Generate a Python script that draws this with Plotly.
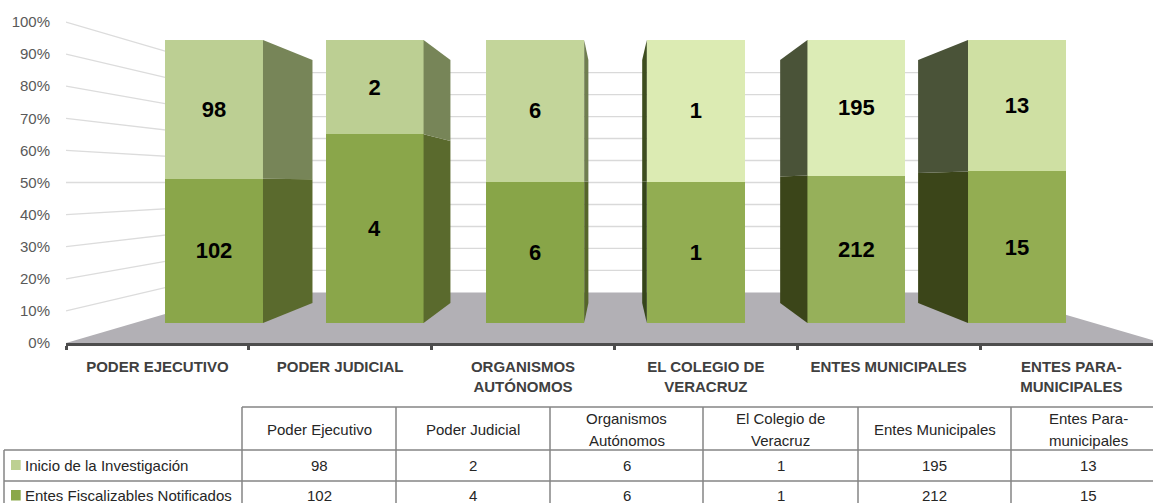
import plotly.graph_objects as go

# ---- data ----
axis_labels = ["PODER EJECUTIVO", "PODER JUDICIAL", "ORGANISMOS<br>AUTÓNOMOS",
               "EL COLEGIO DE<br>VERACRUZ", "ENTES MUNICIPALES", "ENTES PARA-<br>MUNICIPALES"]
table_headers = ["Poder Ejecutivo", "Poder Judicial", "Organismos<br>Autónomos",
                 "El Colegio de<br>Veracruz", "Entes Municipales", "Entes Para-<br>municipales"]
series_top_name = "Inicio de la Investigación"
series_bottom_name = "Entes Fiscalizables Notificados"
inicio = [98, 2, 6, 1, 195, 13]
notificados = [102, 4, 6, 1, 212, 15]
pct_ticks = [0, 10, 20, 30, 40, 50, 60, 70, 80, 90, 100]

# ---- styles ----
top_front = ["#bccf93", "#bccf93", "#c3d59a", "#dcebb3", "#dcecb6", "#cfe0a3"]
bot_front = ["#8aa64a", "#8aa64a", "#88a548", "#92ad52", "#96b05a", "#93ad52"]
top_side = ["#778558", "#778558", "#6f7d50", "#3e4e1f", "#4a5338", "#4a5338"]
bot_side = ["#5a6a2d", "#5a6a2d", "#55652a", "#35451a", "#3b4519", "#3b4519"]
legend_top, legend_bot = "#bdd092", "#8aa84a"
W, H = 1153, 503
FONT = "Liberation Sans"

# geometry of the fake 3-D box
x_left_px, y_zero_px = 66, 343
cat_step_px = 182.8
bar_step_px, bar0_px = 160.6, 214
wall_unit_px = 3.21                 # px per % on the front plane of the walls
bar_unit_px, bar_zero_px = 2.83, 323  # px per % on the front face of the bars
bar_w = 0.61
vp_x = (614 - bar0_px) / bar_step_px
k_bar, k_wall = 0.859, 0.685
front_l = (x_left_px - bar0_px) / bar_step_px
front_r = 2 * vp_x - front_l
back_l = vp_x + (front_l - vp_x) * k_wall
back_r = vp_x + (front_r - vp_x) * k_wall
y2_low = (bar_zero_px - y_zero_px) / bar_unit_px
y2_high = bar_zero_px / bar_unit_px
vp_y2 = (bar_zero_px - 182) / bar_unit_px


def wall_back(v):
    return 50 + (v - 50) * k_wall


fig = go.Figure()

# invisible carrier so that the category axis draws its labels
fig.add_trace(go.Scatter(x=axis_labels, y=[0] * 6, mode="lines", line=dict(width=0),
                         hoverinfo="skip", showlegend=False))

totals = [a + b for a, b in zip(inicio, notificados)]
bot_pct = [100 * b / t for b, t in zip(notificados, totals)]

bar_font = dict(family=FONT, size=22, color="#000000", weight=700)
fig.add_trace(go.Bar(x=list(range(6)), y=notificados, name=series_bottom_name,
                     xaxis="x2", yaxis="y2", width=bar_w,
                     marker=dict(color=bot_front, line=dict(width=0)),
                     text=notificados, textposition="inside", insidetextanchor="middle",
                     textangle=0, constraintext="none", textfont=bar_font))
fig.add_trace(go.Bar(x=list(range(6)), y=inicio, name=series_top_name,
                     xaxis="x2", yaxis="y2", width=bar_w,
                     marker=dict(color=top_front, line=dict(width=0)),
                     text=inicio, textposition="inside", insidetextanchor="middle",
                     textangle=0, constraintext="none", textfont=bar_font))


def back_y(v):
    return vp_y2 + (v - vp_y2) * k_bar


for i in range(6):
    edge = i + bar_w / 2 if i < vp_x else i - bar_w / 2
    bx = vp_x + (edge - vp_x) * k_bar
    for lo, hi, col in [(0, bot_pct[i], bot_side[i]), (bot_pct[i], 100, top_side[i])]:
        fig.add_trace(go.Scatter(
            x=[edge, bx, bx, edge, edge],
            y=[lo, back_y(lo), back_y(hi), hi, lo],
            xaxis="x2", yaxis="y2", mode="lines", line=dict(width=0),
            fill="toself", fillcolor=col, hoverinfo="skip", showlegend=False))

shapes = []
# floor
shapes.append(dict(type="path", xref="x2", yref="y", layer="below",
                   path=f"M{front_l},0 L{back_l},{wall_back(0)} L{back_r},{wall_back(0)} L{front_r},0 Z",
                   fillcolor="#b2b0b5", line=dict(width=0)))
# wall gridlines
for v in pct_ticks[1:]:
    shapes.append(dict(type="line", xref="x2", yref="y", layer="below",
                       x0=front_l, y0=v, x1=back_l, y1=wall_back(v),
                       line=dict(color="#dcdcdc", width=1.3)))
    shapes.append(dict(type="line", xref="x2", yref="y", layer="below",
                       x0=back_l, y0=wall_back(v), x1=back_r, y1=wall_back(v),
                       line=dict(color="#d9d9d9", width=1.3)))

# ---- data table, drawn with paper-space lines and real text ----
def px(x):
    return x / W


def py(y):
    return 1 - y / H


col_px = [242, 396, 550, 703, 858, 1011, 1165]
row_top, row_head, row_1 = 407, 450, 481
tbl = dict(color="#858585", width=1.5)


def hline(y, x0, x1):
    shapes.append(dict(type="line", xref="paper", yref="paper", x0=px(x0), x1=px(x1),
                       y0=py(y), y1=py(y), line=tbl))


def vline(x, y0, y1):
    shapes.append(dict(type="line", xref="paper", yref="paper", x0=px(x), x1=px(x),
                       y0=py(y0), y1=py(y1), line=tbl))


hline(row_top, col_px[0], col_px[-1])
hline(row_head, 4, col_px[-1])
hline(row_1, 4, col_px[-1])
vline(4, row_head, 503)
for c in col_px[:-1]:
    vline(c, row_top, 503)

for y0, y1, c in [(460, 470, legend_top), (490, 500.5, legend_bot)]:
    shapes.append(dict(type="rect", xref="paper", yref="paper", x0=px(11), x1=px(20.7),
                       y0=py(y0), y1=py(y1), fillcolor=c, line=dict(width=0)))

annots = []


def txt(x, y, s, anchor="center"):
    annots.append(dict(xref="paper", yref="paper", x=px(x), y=py(y), text=s, showarrow=False,
                       xanchor=anchor, yanchor="middle", align="center",
                       font=dict(family=FONT, size=15, color="#262626")))


for j in range(6):
    cx = (col_px[j] + col_px[j + 1]) / 2
    parts = table_headers[j].split("<br>")
    if len(parts) == 1:
        txt(cx, 429, parts[0])
    else:
        txt(cx, 418.5, parts[0])
        txt(cx, 440, parts[1])
    txt(cx, 465, str(inicio[j]))
    txt(cx, 495, str(notificados[j]))
txt(23, 465, series_top_name, "left")
txt(23, 495, series_bottom_name, "left")

fig.update_layout(
    width=W, height=H, margin=dict(l=0, r=0, t=0, b=0), autosize=False,
    paper_bgcolor="#ffffff", plot_bgcolor="rgba(0,0,0,0)",
    barmode="stack", barnorm="percent", showlegend=False,
    shapes=shapes, annotations=annots,
    xaxis=dict(type="category", domain=[x_left_px / W, 1], categoryorder="array",
               categoryarray=axis_labels, tickson="boundaries",
               range=[-0.5, (W - x_left_px) / cat_step_px - 0.5],
               showgrid=False, zeroline=False, showline=True, linecolor="#4d4d4d", linewidth=3,
               ticks="outside", ticklen=4, tickwidth=3, tickcolor="#4d4d4d",
               ticklabelstandoff=8, tickangle=0, automargin=False,
               tickfont=dict(family=FONT, size=15, color="#404040", weight=700)),
    yaxis=dict(domain=[(H - y_zero_px) / H, 1], range=[0, y_zero_px / wall_unit_px],
               tickmode="array", tickvals=pct_ticks, ticktext=[f"{v}%" for v in pct_ticks],
               showgrid=False, zeroline=False, showline=False, automargin=False,
               ticks="outside", ticklen=12, tickcolor="rgba(0,0,0,0)",
               tickfont=dict(family=FONT, size=15, color="#595959")),
    xaxis2=dict(overlaying="x", visible=False, range=[front_l, (W - bar0_px) / bar_step_px]),
    yaxis2=dict(overlaying="y", visible=False, range=[y2_low, y2_high]),
)

fig.write_html("out.html", post_script="document.body.style.margin='0';",
               config=dict(displayModeBar=False))
